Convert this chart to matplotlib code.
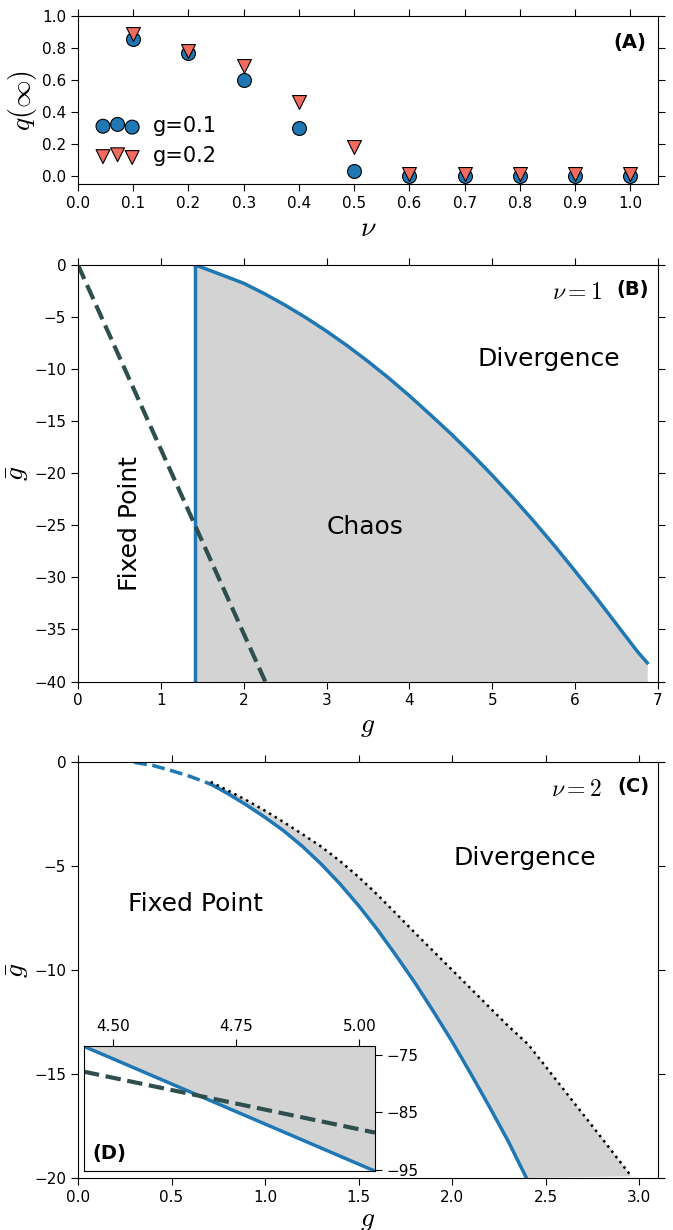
import matplotlib
matplotlib.use("Agg")
import matplotlib.pyplot as plt
from matplotlib.ticker import FormatStrFormatter

plt.rcParams["mathtext.fontset"] = "cm"
plt.rcParams["font.family"] = "DejaVu Sans"

#data
#panel A
nu = [0.1, 0.2, 0.3, 0.4, 0.5, 0.6, 0.7, 0.8, 0.9, 1.0]
q_g01 = [0.855, 0.77, 0.60, 0.30, 0.03, 0.0, 0.0, 0.0, 0.0, 0.0]
q_g02 = [0.89, 0.78, 0.685, 0.46, 0.18, 0.01, 0.01, 0.01, 0.01, 0.01]

#panel B, nu=1
gB_chaos = [1.414, 1.6, 1.75, 2.0, 2.25, 2.5, 2.75, 3.0, 3.25, 3.5, 3.75, 4.0, 4.25, 4.5,
            4.75, 5.0, 5.25, 5.5, 5.75, 6.0, 6.25, 6.5, 6.75, 6.87]
gbarB_chaos = [0.0, -0.55, -1.0, -1.76, -2.76, -3.86, -5.06, -6.36, -7.76, -9.26, -10.86, -12.56,
               -14.36, -16.2, -18.15, -20.2, -22.35, -24.6, -26.95, -29.4, -31.9, -34.5, -37.1, -38.2]
gB_crit = [1.414, 1.414]
gbarB_crit = [0.0, -40.0]
gB_fix = [0.0, 2.26]
gbarB_fix = [0.0, -40.0]

#panel C, nu=2
gC_dash = [0.30, 0.4, 0.5, 0.6, 0.709]
gbarC_dash = [0.0, -0.15, -0.4, -0.68, -1.05]
gC_solid = [0.709, 0.8, 0.9, 1.0, 1.1, 1.2, 1.3, 1.4, 1.5, 1.6, 1.7, 1.8, 1.9, 2.0, 2.1, 2.2, 2.3, 2.396]
gbarC_solid = [-1.05, -1.5, -2.05, -2.65, -3.3, -4.05, -4.9, -5.85, -6.9, -8.05, -9.3, -10.6,
               -12.0, -13.45, -15.0, -16.6, -18.25, -20.0]
gC_dot = [0.709, 0.8, 0.9, 1.0, 1.1, 1.2, 1.3, 1.4, 1.5, 1.6, 1.7, 1.8, 1.9, 2.0, 2.1, 2.2, 2.3,
          2.405, 2.5, 2.6, 2.7, 2.8, 2.958]
gbarC_dot = [-0.94, -1.35, -1.82, -2.33, -2.88, -3.46, -4.06, -4.75, -5.52, -6.37, -7.28, -8.2,
             -9.1, -10.0, -10.9, -11.8, -12.7, -13.57, -14.65, -15.8, -16.95, -18.1, -19.94]

#inset D
gD = [4.44, 5.032]
gbarD_solid = [-73.5, -95.2]
gbarD_dash = [-77.9, -88.5]

blue = "#1f77b4"
red = "#f26b5e"
dsg = "#2f4f4f"
fill = "#d3d3d3"

#_____________________________________________________________________________
def main():

    fig = plt.figure(figsize=(6.73, 12.3), dpi=100)

    panel_a(fig)
    panel_b(fig)
    panel_c(fig)
    panel_d(fig)

    fig.savefig("out.png", dpi=100)
    plt.close()

#main

#_____________________________________________________________________________
def panel_a(fig):

    ax = fig.add_axes([0.1159, 0.8504, 0.8618, 0.1366])
    set_ticks(ax)

    ax.scatter(nu, q_g01, s=100, marker="o", color=blue, edgecolor="black", lw=0.8, zorder=3, label="g=0.1")
    ax.scatter(nu, q_g02, s=100, marker="v", color=red, edgecolor="black", lw=0.8, zorder=4, label="g=0.2")

    ax.set_xlim(0, 1.05)
    ax.set_ylim(-0.05, 1.0)
    ax.set_xticks([0.0, 0.1, 0.2, 0.3, 0.4, 0.5, 0.6, 0.7, 0.8, 0.9, 1.0])
    ax.set_yticks([0.0, 0.2, 0.4, 0.6, 0.8, 1.0])
    ax.xaxis.set_major_formatter(FormatStrFormatter("%.1f"))
    ax.yaxis.set_major_formatter(FormatStrFormatter("%.1f"))

    ax.set_xlabel(r"$\nu$", fontsize=20, labelpad=2)
    ax.set_ylabel(r"$q(\infty)$", fontsize=20, labelpad=2)

    ax.legend(loc="lower left", bbox_to_anchor=(0.0, -0.005), scatterpoints=3, frameon=False,
              fontsize=15, handletextpad=0.7, labelspacing=0.5)

    ax.text(0.98, 0.9, "(A)", transform=ax.transAxes, ha="right", va="top", fontsize=14, weight="bold")

#panel_a

#_____________________________________________________________________________
def panel_b(fig):

    ax = fig.add_axes([0.1159, 0.4459, 0.8618, 0.3387])
    set_ticks(ax)

    ax.fill_between(gB_chaos, gbarB_chaos, -40, color=fill, lw=0)
    ax.plot(gB_chaos, gbarB_chaos, "-", color=blue, lw=2.5)
    ax.plot(gB_crit, gbarB_crit, "-", color=blue, lw=2.5)
    ax.plot(gB_fix, gbarB_fix, "--", color=dsg, lw=3)

    ax.set_xlim(0, 7)
    ax.set_ylim(-40, 0)

    ax.set_xlabel(r"$g$", fontsize=20, labelpad=2)
    ax.set_ylabel(r"$\bar{g}$", fontsize=20, labelpad=2)

    ax.text(5.68, -9.0, "Divergence", fontsize=18, ha="center", va="center")
    ax.text(3.47, -25.2, "Chaos", fontsize=18, ha="center", va="center")
    ax.text(0.63, -24.8, "Fixed Point", fontsize=18, ha="center", va="center", rotation=90)

    panel_tag(ax, r"$\nu=1$", "(B)")

#panel_b

#_____________________________________________________________________________
def panel_c(fig):

    ax = fig.add_axes([0.1159, 0.0425, 0.8618, 0.3377])
    set_ticks(ax)

    px = gC_dot + gC_solid[::-1]
    py = gbarC_dot + gbarC_solid[::-1]
    ax.fill(px, py, color=fill, lw=0)

    ax.plot(gC_dash, gbarC_dash, "--", color=blue, lw=2.5)
    ax.plot(gC_solid, gbarC_solid, "-", color=blue, lw=2.5)
    ax.plot(gC_dot, gbarC_dot, ":", color="black", lw=1.8)

    ax.set_xlim(0, 3.1)
    ax.set_ylim(-20, 0)
    ax.set_xticks([0.0, 0.5, 1.0, 1.5, 2.0, 2.5, 3.0])
    ax.set_yticks([-20, -15, -10, -5, 0])
    ax.xaxis.set_major_formatter(FormatStrFormatter("%.1f"))

    ax.set_xlabel(r"$g$", fontsize=20, labelpad=0)
    ax.set_ylabel(r"$\bar{g}$", fontsize=20, labelpad=2)

    ax.text(2.39, -4.6, "Divergence", fontsize=18, ha="center", va="center")
    ax.text(0.63, -6.8, "Fixed Point", fontsize=18, ha="center", va="center")

    panel_tag(ax, r"$\nu=2$", "(C)")

#panel_c

#_____________________________________________________________________________
def panel_d(fig):

    ax = fig.add_axes([0.1248, 0.048, 0.4324, 0.1016])

    ax.fill_between(gD, gbarD_solid, -73.43, color=fill, lw=0)
    ax.plot(gD, gbarD_solid, "-", color=blue, lw=2.5)
    ax.plot(gD, gbarD_dash, "--", color=dsg, lw=3)

    ax.set_xlim(4.44, 5.032)
    ax.set_ylim(-95.17, -73.43)
    ax.set_xticks([4.50, 4.75, 5.00])
    ax.set_yticks([-95, -85, -75])
    ax.xaxis.set_major_formatter(FormatStrFormatter("%.2f"))

    ax.xaxis.tick_top()
    ax.yaxis.tick_right()
    ax.tick_params(direction="out", length=5, labelsize=11)

    ax.text(0.03, 0.06, "(D)", transform=ax.transAxes, ha="left", va="bottom", fontsize=14, weight="bold")

#panel_d

#_____________________________________________________________________________
def panel_tag(ax, lab, tag):

    ax.text(0.985, 0.965, tag, transform=ax.transAxes, ha="right", va="top", fontsize=14, weight="bold")
    ax.annotate(lab, xy=(0.985, 0.965), xycoords="axes fraction", xytext=(-34, 0),
                textcoords="offset points", ha="right", va="top", fontsize=17)

#panel_tag

#_____________________________________________________________________________
def set_ticks(ax):

    ax.tick_params(which="both", direction="out", top=True, right=True, length=5, labelsize=11)

#set_ticks

#_____________________________________________________________________________
if __name__ == "__main__":

    main()
